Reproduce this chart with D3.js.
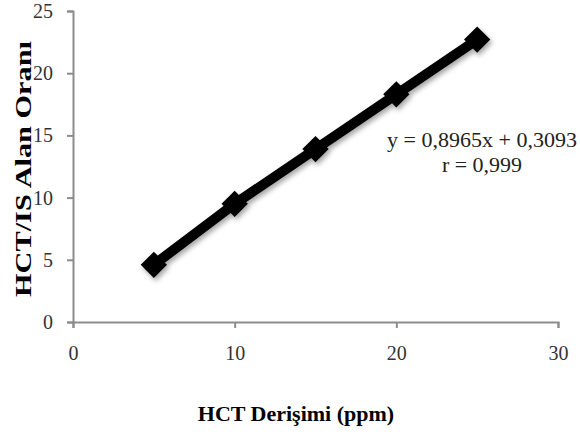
<!DOCTYPE html>
<html lang="en">
<head>
<meta charset="utf-8">
<title>HCT calibration</title>
<script src="https://cdn.jsdelivr.net/npm/d3@7"></script>
<style>
  body { margin: 0; background: #fff; }
  .axis path, .axis line { stroke: #8c8c8c; stroke-width: 2px; }
  .axis text { font-family: "Liberation Serif", "DejaVu Serif", serif; font-size: 20px; fill: #333; }
</style>
</head>
<body>
<script>
// data
const concentrations = [5, 10, 15, 20, 25];
const areaRatios = [4.6, 9.5, 13.9, 18.3, 22.7];
const xTicks = [0, 10, 20, 30];
const yTicks = [0, 5, 10, 15, 20, 25];
const equationLines = ["y = 0,8965x + 0,3093", "r = 0,999"];

const w = 580, h = 441;
const margin = { left: 73, right: 22, top: 11, bottom: 119 };
const serif = "Liberation Serif, DejaVu Serif, serif";

const svg = d3.select("body").append("svg")
  .attr("width", w)
  .attr("height", h);

const defs = svg.append("defs");
const f = defs.append("filter").attr("id", "shadow")
  .attr("x", "-20%").attr("y", "-20%").attr("width", "140%").attr("height", "140%");
f.append("feDropShadow")
  .attr("dx", 2).attr("dy", 3).attr("stdDeviation", 2.5)
  .attr("flood-color", "#000").attr("flood-opacity", 0.35);

const x = d3.scaleLinear().domain([0, 30]).range([margin.left, w - margin.right]);
const y = d3.scaleLinear().domain([0, 25]).range([h - margin.bottom, margin.top]);

// axes
svg.append("g")
  .attr("class", "axis")
  .attr("transform", "translate(0," + (h - margin.bottom) + ")")
  .call(d3.axisBottom(x).tickValues(xTicks).tickSize(6).tickSizeOuter(6).tickPadding(18))
  .selectAll("text").attr("dy", "0.71em");

svg.append("g")
  .attr("class", "axis")
  .attr("transform", "translate(" + margin.left + ",0)")
  .call(d3.axisLeft(y).tickValues(yTicks).tickSize(6).tickSizeOuter(6).tickPadding(14));

// series
const data = concentrations.map((c, i) => ({ x: c, y: areaRatios[i] }));
const g = svg.append("g").attr("filter", "url(#shadow)");

g.append("path")
  .datum(data)
  .attr("fill", "none")
  .attr("stroke", "#000")
  .attr("stroke-width", 10)
  .attr("d", d3.line().x(d => x(d.x)).y(d => y(d.y)));

g.selectAll(".pt")
  .data(data)
  .enter().append("path")
  .attr("class", "pt")
  .attr("transform", d => "translate(" + x(d.x) + "," + y(d.y) + ")")
  .attr("d", d3.symbol(d3.symbolDiamond2, 440))
  .attr("fill", "#000");

// equation
svg.append("text")
  .attr("x", 482).attr("y", 147)
  .attr("text-anchor", "middle")
  .style("font-family", serif)
  .style("font-size", "22px")
  .attr("fill", "#222")
  .selectAll("tspan")
  .data(equationLines)
  .enter().append("tspan")
  .attr("x", 482)
  .attr("dy", (d, i) => i === 0 ? 0 : 25)
  .text(d => d);

// axis titles
svg.append("text")
  .attr("x", 296).attr("y", 421)
  .attr("text-anchor", "middle")
  .style("font-family", serif)
  .style("font-weight", "bold")
  .style("font-size", "22px")
  .text("HCT Derişimi (ppm)");

svg.append("text")
  .attr("transform", "translate(31,169) rotate(-90)")
  .attr("text-anchor", "middle")
  .style("font-family", serif)
  .style("font-weight", "bold")
  .style("font-size", "23px")
  .attr("textLength", 256)
  .attr("lengthAdjust", "spacingAndGlyphs")
  .text("HCT/IS Alan Oranı");
</script>
</body>
</html>
